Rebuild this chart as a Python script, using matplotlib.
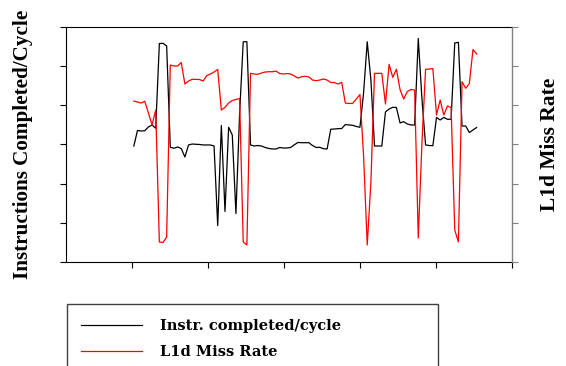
import matplotlib.pyplot as plt
import numpy as np

# per-interval samples
ipc = [1.481, 1.679, 1.672, 1.676, 1.723, 1.749, 1.707, 2.789, 2.792, 2.758,
       1.464, 1.452, 1.468, 1.449, 1.340, 1.494, 1.506, 1.503, 1.500, 1.494,
       1.494, 1.494, 1.481, 0.466, 1.743, 0.645, 1.720, 1.621, 0.619, 1.889,
       2.812, 2.812, 1.494, 1.481, 1.487, 1.481, 1.462, 1.449, 1.443, 1.443,
       1.462, 1.455, 1.455, 1.462, 1.496, 1.526, 1.523, 1.523, 1.523, 1.487,
       1.462, 1.464, 1.446, 1.443, 1.694, 1.698, 1.702, 1.704, 1.755, 1.749,
       1.745, 1.730, 1.720, 2.158, 2.812, 2.329, 1.481, 1.481, 1.481, 1.915,
       1.953, 1.975, 1.972, 1.775, 1.791, 1.762, 1.749, 1.749, 2.853, 2.085,
       1.494, 1.487, 1.485, 1.845, 1.813, 1.845, 1.822, 1.822, 2.796, 2.805,
       1.736, 1.736, 1.653, 1.685, 1.717]

l1d_miss = [4.110, 4.085, 4.059, 4.103, 3.804, 3.498, 3.880, 0.511, 0.498, 0.638,
            5.029, 5.004, 5.004, 5.093, 4.544, 4.621, 4.664, 4.664, 4.659, 4.621,
            4.761, 4.800, 4.851, 4.915, 3.880, 3.949, 4.059, 4.123, 4.149, 4.174,
            0.511, 0.434, 4.817, 4.800, 4.792, 4.825, 4.851, 4.858, 4.858, 4.876,
            4.812, 4.800, 4.812, 4.800, 4.749, 4.697, 4.731, 4.741, 4.723, 4.646,
            4.629, 4.646, 4.672, 4.646, 4.583, 4.583, 4.544, 4.588, 4.059, 4.047,
            4.052, 4.161, 4.276, 2.716, 0.434, 2.027, 4.817, 4.817, 4.817, 4.034,
            5.047, 4.715, 4.920, 4.404, 4.161, 4.353, 4.404, 4.391, 0.613, 3.038,
            4.920, 4.927, 4.940, 3.753, 4.136, 3.753, 3.983, 3.944, 0.817, 0.511,
            4.603, 4.435, 4.557, 5.425, 5.310]

labels = ["Instr. completed/cycle", "L1d Miss Rate"]
x = np.arange(len(ipc))

label_font = dict(family="Liberation Serif", weight="bold")

fig = plt.figure(figsize=(5.66, 3.66), dpi=100)
ax = fig.add_axes([0.1166, 0.2842, 0.788, 0.642])
ax2 = ax.twinx()

l1, = ax.plot(x, ipc, color="black", lw=0.9)
l2, = ax2.plot(x, l1d_miss, color="red", lw=0.9)

ax.set_xlim(-18.6, 103.7)
ax.set_xticks(np.arange(6) * 20.8 - 0.4)
ax.set_ylim(0, 3)
ax.set_yticks(np.arange(0, 3.01, 0.5))
ax2.set_ylim(0, 6)
ax2.set_yticks(np.arange(0, 6.01, 1))

ax.tick_params(direction="out", length=4, width=0.8, colors="black",
               labelbottom=False, labelleft=False)
ax2.tick_params(direction="out", length=4, width=0.8, colors="#808080",
                labelright=False)
for side in ["left", "bottom", "top"]:
    ax.spines[side].set_linewidth(0.8)
ax.spines["right"].set_visible(False)
for side in ["left", "bottom", "top"]:
    ax2.spines[side].set_visible(False)
ax2.spines["right"].set_color("#808080")
ax2.spines["right"].set_linewidth(1.0)

ax.set_ylabel("Instructions Completed/Cycle", va="center", size=15.2, **label_font)
ax.yaxis.set_label_coords(-0.0975, 0.5)
ax2.set_ylabel("L1d Miss Rate", va="center", rotation=90, size=15.5, **label_font)
ax2.yaxis.set_label_coords(1.085, 0.5)

# legend box runs off the bottom of the canvas, as in the original
leg = fig.legend([l1, l2], labels, loc="upper left",
                 bbox_to_anchor=(0.1178, 0.0, 0.6566, 0.1686), mode="expand",
                 borderaxespad=0, borderpad=1.0, handlelength=4.15,
                 handletextpad=1.25, labelspacing=0.86, fancybox=False,
                 framealpha=1, edgecolor="#404040",
                 prop=dict(family="DejaVu Serif", weight="bold", size=10.5))
leg.get_frame().set_linewidth(1.0)

fig.savefig("out.png", dpi=100)
